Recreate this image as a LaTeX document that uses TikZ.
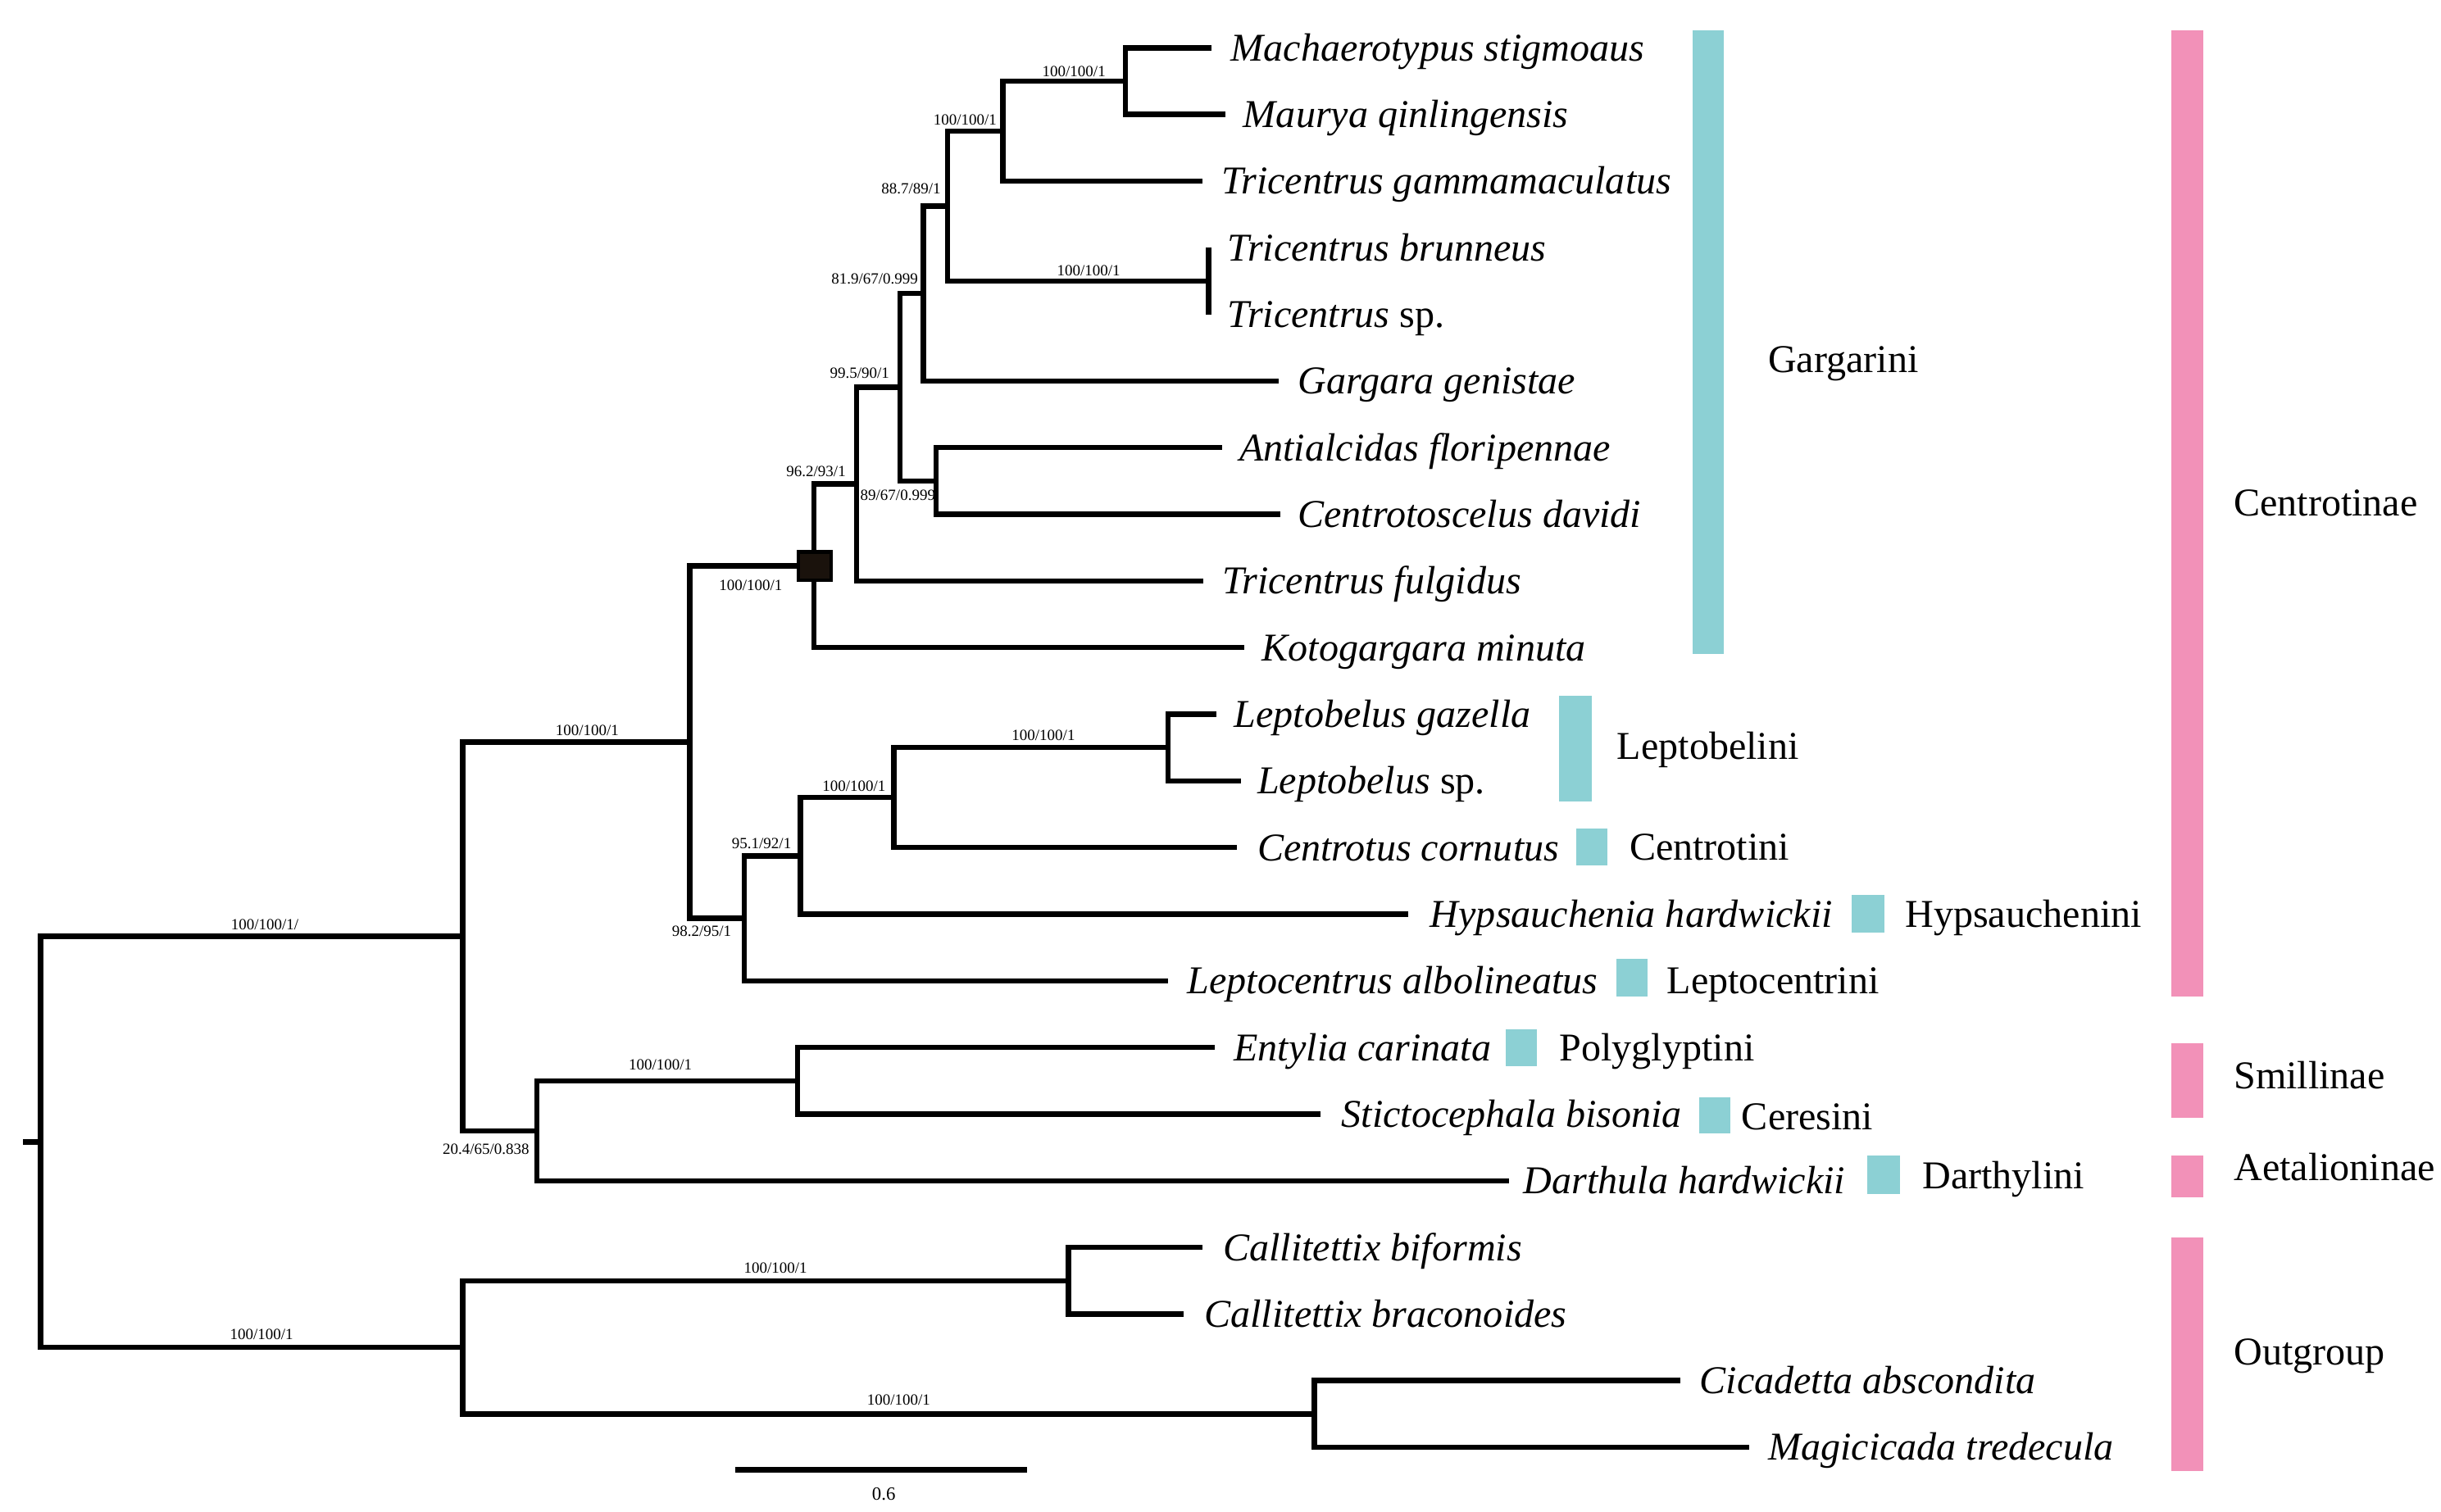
\documentclass[tikz,border=0pt]{standalone}
\usepackage{fontspec}
\setmainfont{Liberation Serif}
\definecolor{tealbar}{HTML}{8CD0D4}
\definecolor{pinkbar}{HTML}{F291B8}
\definecolor{boxfill}{HTML}{1A120C}
\begin{document}
\begin{tikzpicture}[x=0.5pt,y=-0.5pt,
  br/.style={line width=1.7pt, line join=miter},
  taxon/.style={anchor=west, inner sep=0pt, font=\fontsize{12.65}{14}\selectfont\itshape, text height=8.4pt, text depth=0pt},
  tribe/.style={anchor=west, inner sep=0pt, font=\fontsize{12.65}{14}\selectfont, text height=8.4pt, text depth=0pt},
  bs/.style={inner sep=0pt, font=\fontsize{5}{6}\selectfont},
  tbar/.style={fill=tealbar},
  pbar/.style={fill=pinkbar}]
\useasboundingbox (0,0) rectangle (1567.4,971.05);

% internal nodes
\coordinate (stub) at (15,733.35);
\coordinate (root) at (26,733.35);
\coordinate (ing)  at (297,601.4);
\coordinate (outg) at (297,865.3);
\coordinate (cen)  at (443,476.6);
\coordinate (n204) at (344.6,726.2);
\coordinate (smi)  at (512,694.1);
\coordinate (gar)  at (522.5,363.4);
\coordinate (n962) at (550,310.9);
\coordinate (n995) at (578,248.7);
\coordinate (n819) at (593,188.5);
\coordinate (n887) at (608.5,132.35);
\coordinate (nup)  at (644,84.2);
\coordinate (nmm)  at (722.5,52.1);
\coordinate (nbr)  at (776,180.5);
\coordinate (n8967) at (601,308.9);
\coordinate (n982) at (478,589.8);
\coordinate (n951) at (514,549.65);
\coordinate (nlc)  at (574,512.2);
\coordinate (nlb)  at (750,480.1);
\coordinate (ncal) at (686,822.5);
\coordinate (ncic) at (844,908.1);

% leaf tips
\coordinate (t1)  at (778,30.7);
\coordinate (t2)  at (787,73.5);
\coordinate (t3)  at (772,116.3);
\coordinate (t4)  at (776,159.1);
\coordinate (t5)  at (776,201.9);
\coordinate (t6)  at (821,244.7);
\coordinate (t7)  at (784.5,287.5);
\coordinate (t8)  at (822,330.3);
\coordinate (t9)  at (772.5,373.1);
\coordinate (t10) at (799,415.9);
\coordinate (t11) at (781,458.7);
\coordinate (t12) at (797,501.5);
\coordinate (t13) at (794,544.3);
\coordinate (t14) at (904,587.1);
\coordinate (t15) at (750,629.9);
\coordinate (t16) at (780,672.7);
\coordinate (t17) at (848,715.5);
\coordinate (t18) at (969,758.3);
\coordinate (t19) at (772,801.1);
\coordinate (t20) at (760,843.9);
\coordinate (t21) at (1079,886.7);
\coordinate (t22) at (1123,929.5);

% branches
\draw[br] (stub) -- (root);
\foreach \p/\c in {root/ing, root/outg, ing/cen, ing/n204, cen/gar, cen/n982,
  gar/n962, gar/t10, n962/n995, n962/t9, n995/n819, n995/n8967,
  n819/n887, n819/t6, n887/nup, n887/nbr, nup/nmm, nup/t3, nmm/t1, nmm/t2,
  nbr/t4, nbr/t5, n8967/t7, n8967/t8, n982/n951, n982/t15, n951/nlc, n951/t14,
  nlc/nlb, nlc/t13, nlb/t11, nlb/t12, n204/smi, n204/t18, smi/t16, smi/t17,
  outg/ncal, outg/ncic, ncal/t19, ncal/t20, ncic/t21, ncic/t22}
  \draw[br] (\p) |- (\c);

% node marker
\node[fill=boxfill, draw=black, line width=1.2pt, minimum width=10.6pt, minimum height=9pt, inner sep=0pt] (gbox) at (523.2,363.6) {};

% support values
\node[bs] (s1)  at (170,594) {100/100/1/};
\node[bs] (s2)  at (168,857) {100/100/1};
\node[bs] (s3)  at (377,469) {100/100/1};
\node[bs] (s4)  at (312,738) {20.4/65/0.838};
\node[bs] (s5)  at (482,376) {100/100/1};
\node[bs] (s6)  at (524,302.6) {96.2/93/1};
\node[bs] (s7)  at (552,239.5) {99.5/90/1};
\node[bs] (s8)  at (561.6,179) {81.9/67/0.999};
\node[bs] (s9)  at (585,121) {88.7/89/1};
\node[bs] (s10) at (619.7,77) {100/100/1};
\node[bs] (s11) at (689.6,46) {100/100/1};
\node[bs] (s12) at (699,173.7) {100/100/1};
\node[bs] (s13) at (576.5,318) {89/67/0.999};
\node[bs] (s14) at (450.5,598) {98.2/95/1};
\node[bs] (s15) at (489,541.6) {95.1/92/1};
\node[bs] (s16) at (548.4,505) {100/100/1};
\node[bs] (s17) at (670,472) {100/100/1};
\node[bs] (s18) at (424,684) {100/100/1};
\node[bs] (s19) at (498,814.6) {100/100/1};
\node[bs] (s20) at (577,899) {100/100/1};

% taxa
\node[taxon] (L1)  at ([xshift=6pt]t1)  {Machaerotypus stigmoaus};
\node[taxon] (L2)  at ([xshift=5.5pt]t2)  {Maurya qinlingensis};
\node[taxon] (L3)  at ([xshift=6pt]t3)  {Tricentrus gammamaculatus};
\node[taxon] (L4)  at ([xshift=6pt]t4)  {Tricentrus brunneus};
\node[taxon] (L5)  at ([xshift=6pt]t5)  {Tricentrus\/\textup{ sp.}};
\node[taxon] (L6)  at ([xshift=6pt]t6)  {Gargara genistae};
\node[taxon] (L7)  at ([xshift=5.5pt]t7)  {Antialcidas floripennae};
\node[taxon] (L8)  at ([xshift=5.5pt]t8)  {Centrotoscelus davidi};
\node[taxon] (L9)  at ([xshift=6pt]t9)  {Tricentrus fulgidus};
\node[taxon] (L10) at ([xshift=5.5pt]t10) {Kotogargara minuta};
\node[taxon] (L11) at ([xshift=5.5pt]t11) {Leptobelus gazella};
\node[taxon] (L12) at ([xshift=5pt]t12) {Leptobelus\/\textup{ sp.}};
\node[taxon] (L13) at ([xshift=6.5pt]t13) {Centrotus cornutus};
\node[taxon] (L14) at ([xshift=7pt]t14) {Hypsauchenia hardwickii};
\node[taxon] (L15) at ([xshift=6pt]t15) {Leptocentrus albolineatus};
\node[taxon] (L16) at ([xshift=6pt]t16) {Entylia carinata};
\node[taxon] (L17) at ([xshift=6.5pt]t17) {Stictocephala bisonia};
\node[taxon] (L18) at ([xshift=4.5pt]t18) {Darthula hardwickii};
\node[taxon] (L19) at ([xshift=6.5pt]t19) {Callitettix biformis};
\node[taxon] (L20) at ([xshift=6.5pt]t20) {Callitettix braconoides};
\node[taxon] (L21) at ([xshift=6pt]t21) {Cicadetta abscondita};
\node[taxon] (L22) at ([xshift=6pt]t22) {Magicicada tredecula};

% tribe bars
\fill[tbar] (1087,19.7) rectangle (1107,420);
\fill[tbar] (1001,447) rectangle (1022,515);
\fill[tbar] (1012,532) rectangle (1032,556);
\fill[tbar] (1189,575) rectangle (1210,599);
\fill[tbar] (1038,616) rectangle (1058,640);
\fill[tbar] (967,661) rectangle (987,685);
\fill[tbar] (1091,705) rectangle (1111,728);
\fill[tbar] (1199,742) rectangle (1220,767);

% subfamily bars
\fill[pbar] (1394,19.7) rectangle (1415,640);
\fill[pbar] (1394,670) rectangle (1415,718);
\fill[pbar] (1394,742) rectangle (1415,769);
\fill[pbar] (1394,795) rectangle (1415,945);

% tribe labels
\node[tribe] (g1) at (1135,231) {Gargarini};
\node[tribe] (g2) at (1038,479) {Leptobelini};
\node[tribe] (g3) at (1046,544) {Centrotini};
\node[tribe] (g4) at (1223,587) {Hypsauchenini};
\node[tribe] (g5) at (1070,630) {Leptocentrini};
\node[tribe] (g6) at (1001,673) {Polyglyptini};
\node[tribe] (g7) at (1118,717) {Ceresini};
\node[tribe] (g8) at (1234,755) {Darthylini};

% subfamily labels
\node[tribe] (f1) at (1434,323) {Centrotinae};
\node[tribe] (f2) at (1434,691) {Smillinae};
\node[tribe] (f3) at (1434,750) {Aetalioninae};
\node[tribe] (f4) at (1434,868) {Outgroup};

% scale bar
\coordinate (sbl) at (472,944);
\coordinate (sbr) at (659.5,944);
\draw[br] (sbl) -- (sbr);
\node[inner sep=0pt, font=\fontsize{6}{7}\selectfont] (sbt) at (567.5,959.6) {0.6};
\end{tikzpicture}
\end{document}
